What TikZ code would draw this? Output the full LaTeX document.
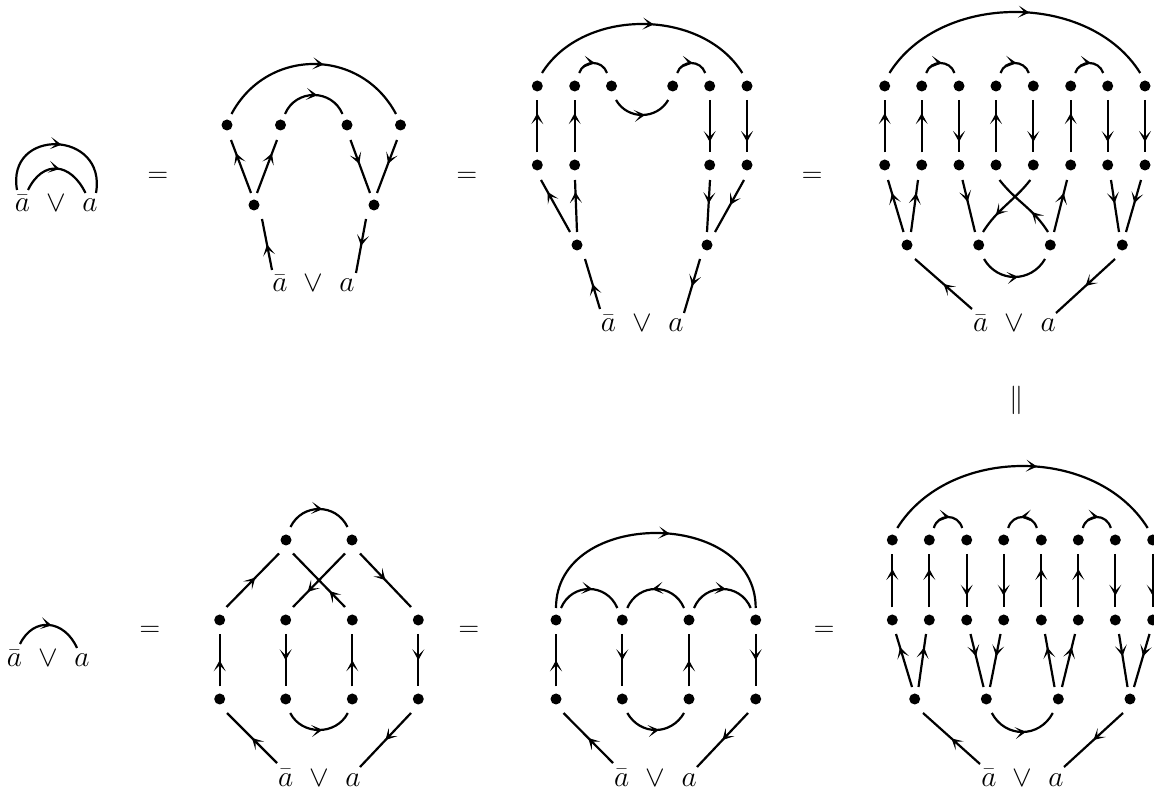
\documentclass[tikz,border=0pt]{standalone}
\usepackage{fix-cm}
\usetikzlibrary{arrows.meta,decorations.markings,calc}
\tikzset{
  x=1pt,y=1pt,
  dot/.style={circle,fill=black,draw=none,inner sep=0pt,minimum size=11pt,outer sep=0pt},
  lab/.style={inner sep=0pt,anchor=base,font=\fontsize{29.5}{35}\selectfont,text=black},
  sym/.style={inner sep=0pt,anchor=center,font=\fontsize{28.5}{34}\selectfont,text=black},
  wire/.style={line width=2.2pt,draw=black},
  tip/.style={postaction={decorate,decoration={markings,
     mark=at position #1 with {\arrow[line width=1.1pt]{Stealth[length=11pt,width=12pt,inset=6pt]}}}}},
  tip/.default=0.5
}
% all coordinates below are reference pixels (y downwards)
\newcommand\dotn[3]{\node[dot] (#1) at (#2,{790-#3}) {};}
\newcommand\freep[3]{\coordinate (#1) at (#2,{790-#3});}
\newcommand\labn[4]{\node[lab] (#1) at (#2,{790-#3}) {$#4$};}
\newcommand\symn[4]{\node[sym] (#1) at (#2,{790-#3}) {$#4$};}
% connector: from node #1 offset (#2,#3) to node #4 offset (#5,#6), arrow at #7
\newcommand\wirex[7]{\draw[wire,tip=#7] ($(#1)+(#2,{-(#3)})$) -- ($(#4)+(#5,{-(#6)})$);}
\newcommand\wup[2]{\wirex{#1}{0}{-12.5}{#2}{0}{14}{\vpos}}
\newcommand\wdn[2]{\wirex{#1}{0}{14}{#2}{0}{-12.5}{\vposd}}
\newcommand\fromfree[4]{\draw[wire,tip=0.5] (#1) -- ($(#2)+(#3,{-(#4)})$);}
\newcommand\tofree[4]{\draw[wire,tip=0.5] ($(#1)+(#2,{-(#3)})$) -- (#4);}
% circular-looking arc over two nodes: #1 #2 nodes, (#3,#4) start offset, #5 tangent angle, #6 sagitta
\newcommand\arcp[6]{\pgfmathsetmacro\arcdist{#6/(0.75*sin(#5))}%
  \draw[wire,tip=0.55] ($(#1)+(#3,#4)$) to[out=#5,in={180-#5},distance=\arcdist pt] ($(#2)+(-#3,#4)$);}
\newcommand\arcq[6]{\pgfmathsetmacro\arcdist{#6/(0.75*sin(#5))}%
  \draw[wire,tip=0.55] ($(#2)+(-#3,#4)$) to[out={180-#5},in=#5,distance=\arcdist pt] ($(#1)+(#3,#4)$);}
\newcommand\arcd[6]{\pgfmathsetmacro\arcdist{#6/(0.75*sin(#5))}%
  \draw[wire,tip=0.55] ($(#1)+(#3,-#4)$) to[out={-#5},in={180+#5},distance=\arcdist pt] ($(#2)+(-#3,-#4)$);}
\begin{document}
\begin{tikzpicture}
\useasboundingbox (0,0) rectangle (1154,790);
% ---------- top row, panel 1
\labn{a1b}{22.5}{212}{\bar a}\labn{a1v}{56}{212}{\vee}\labn{a1a}{90}{212}{a}
\freep{a1o}{17}{190}\freep{a1p}{96}{193}\freep{a1q}{28}{190}\freep{a1r}{85.5}{193}
\draw[wire,tip=0.53] (a1o) to[out=100,in=80,distance=64pt] (a1p);
\draw[wire,tip=0.53] (a1q) to[out=64,in=116,distance=34pt] (a1r);
\symn{eq1}{158}{177}{=}
% ---------- top row, panel 2
\dotn{b1}{227}{125}\dotn{b2}{280.5}{125}\dotn{b3}{347}{125}\dotn{b4}{400.5}{125}
\dotn{bl}{254}{205}\dotn{br}{374}{205}
\labn{b5}{280}{291.7}{\bar a}\labn{b6}{313}{291.7}{\vee}\labn{b7}{347}{291.7}{a}
\freep{bfa}{272}{270}\freep{bfb}{356}{273}
\arcp{b1}{b4}{4.5}{11}{62}{50}\arcp{b2}{b3}{4.5}{11}{67}{19}
\wirex{bl}{-3}{-12}{b1}{4}{15}{0.75}\wirex{bl}{3}{-12}{b2}{-3.5}{15}{0.75}
\wirex{b3}{3.5}{15}{br}{-4}{-12}{0.45}\wirex{b4}{-3.5}{15}{br}{3}{-12}{0.45}
\fromfree{bfa}{bl}{8}{14}\tofree{br}{-8}{14}{bfb}
\symn{eq2}{467}{177}{=}
% ---------- top row, panel 3
\dotn{c1}{537.3}{86}\dotn{c2}{574.7}{86}\dotn{c3}{611.5}{86}\dotn{c4}{672.7}{86}\dotn{c5}{709.7}{86}\dotn{c6}{747}{86}
\dotn{c7}{537.3}{165}\dotn{c8}{574.7}{165}\dotn{c9}{709.7}{165}\dotn{c10}{747}{165}
\dotn{c11}{577}{245}\dotn{c12}{707}{245}
\labn{c13}{608.5}{331.7}{\bar a}\labn{c14}{642}{331.7}{\vee}\labn{c15}{676}{331.7}{a}
\freep{cfa}{600}{309}\freep{cfb}{684}{313}
\arcp{c1}{c6}{4.7}{13}{58}{49}\arcp{c2}{c3}{4.5}{13}{71}{10}\arcp{c4}{c5}{4.5}{13}{71}{10}\arcd{c3}{c4}{4.5}{14}{60}{15}
\def\vpos{0.75}\def\vposd{0.8}
\wup{c7}{c1}\wup{c8}{c2}\wdn{c5}{c9}\wdn{c6}{c10}
\wirex{c11}{-7}{-13}{c7}{3.7}{15}{0.77}\wirex{c11}{0}{-13}{c8}{0.3}{15}{0.77}
\wirex{c9}{0.3}{15}{c12}{0}{-13}{0.45}\wirex{c10}{-3}{15}{c12}{8}{-13}{0.48}
\fromfree{cfa}{c11}{8}{14}\tofree{c12}{-7}{14}{cfb}
\symn{eq3}{812}{177}{=}
% ---------- top row, panel 4
\dotn{d1}{884.7}{86}\dotn{d2}{921.7}{86}\dotn{d3}{959}{86}\dotn{d4}{996}{86}\dotn{d5}{1033.3}{86}\dotn{d6}{1070.7}{86}\dotn{d7}{1107.7}{86}\dotn{d8}{1145}{86}
\dotn{e1}{884.7}{165}\dotn{e2}{921.7}{165}\dotn{e3}{959}{165}\dotn{e4}{996}{165}\dotn{e5}{1033.3}{165}\dotn{e6}{1070.7}{165}\dotn{e7}{1107.7}{165}\dotn{e8}{1145}{165}
\dotn{f1}{907}{245}\dotn{f2}{978.7}{245}\dotn{f3}{1050.3}{245}\dotn{f4}{1122.3}{245}
\labn{g1}{980.7}{331.7}{\bar a}\labn{g2}{1014}{331.7}{\vee}\labn{g3}{1048.3}{331.7}{a}
\freep{gfa}{972}{309}\freep{gfb}{1056}{313}
\arcp{d1}{d8}{4.8}{13}{58}{61}\arcp{d2}{d3}{4.5}{13}{71}{10}\arcp{d4}{d5}{4.5}{13}{71}{10}\arcp{d6}{d7}{4.5}{13}{71}{10}\arcd{f2}{f3}{5.3}{14}{60}{18}
\wup{e1}{d1}\wup{e2}{d2}\wdn{d3}{e3}\wup{e4}{d4}\wdn{d5}{e5}\wup{e6}{d6}\wdn{d7}{e7}\wdn{d8}{e8}
\wirex{f1}{-3.5}{-13}{e1}{3.3}{15}{0.75}\wirex{f1}{4}{-13}{e2}{-3.7}{15}{0.75}
\wirex{e3}{3.5}{15}{f2}{-3.7}{-13}{0.42}\wirex{f3}{3.7}{-13}{e6}{-3.7}{15}{0.75}
\wirex{e7}{3.3}{15}{f4}{-3.3}{-13}{0.45}\wirex{e8}{-4}{15}{f4}{3.7}{-13}{0.45}
\draw[wire,tip=0.7] ($(e5)+(-3,-15)$) to[out=-128,in=58] ($(f2)+(4.3,13)$);
\draw[wire,tip=0.36] ($(f3)+(-2.3,13)$) to[out=122,in=-52] ($(e4)+(3.5,-15)$);
\fromfree{gfa}{f1}{8}{14}\tofree{f4}{-7.3}{14}{gfb}
% ---------- sign between rows
\symn{eq4}{1016.5}{400}{\parallel}
% ---------- bottom row, panel 1
\labn{h1}{14.5}{667}{\bar a}\labn{h2}{48}{667}{\vee}\labn{h3}{82}{667}{a}
\freep{hfa}{20}{644}\freep{hfb}{77}{648}
\draw[wire,tip=0.53] (hfa) to[out=64,in=114,distance=31pt] (hfb);
\symn{eq5}{150}{631}{=}
% ---------- bottom row, panel 2
\dotn{i1}{286}{540}\dotn{i2}{352}{540}
\dotn{i3}{219.7}{620}\dotn{i4}{285.7}{620}\dotn{i5}{352.3}{620}\dotn{i6}{418.3}{620}
\dotn{i7}{219.7}{699}\dotn{i8}{285.7}{699}\dotn{i9}{352.3}{699}\dotn{i10}{418.3}{699}
\labn{j1}{285.7}{786}{\bar a}\labn{j2}{319}{786}{\vee}\labn{j3}{353}{786}{a}
\freep{jfa}{277}{763}\freep{jfb}{360}{767}
\arcp{i1}{i2}{4.5}{13}{64}{18}\arcd{i8}{i9}{4.5}{14}{63}{17}
\wirex{i3}{6.8}{-13}{i1}{-7}{13.5}{0.55}
\wirex{i5}{-7.3}{-13}{i1}{7}{13.5}{0.3}
\wirex{i2}{-7}{13.5}{i4}{7.3}{-13}{0.72}
\wirex{i2}{8}{13.5}{i6}{-7.3}{-13}{0.5}
\def\vpos{0.5}\def\vposd{0.5}
\wup{i7}{i3}\wdn{i4}{i8}\wup{i9}{i5}\wdn{i6}{i10}
\fromfree{jfa}{i7}{7.3}{14}\tofree{i10}{-7.3}{14}{jfb}
\symn{eq6}{469}{631}{=}
% ---------- bottom row, panel 3
\dotn{k1}{556}{620}\dotn{k2}{622.3}{620}\dotn{k3}{689}{620}\dotn{k4}{755.7}{620}
\dotn{k5}{556}{699}\dotn{k6}{622.3}{699}\dotn{k7}{689}{699}\dotn{k8}{755.7}{699}
\labn{l1}{621.7}{786}{\bar a}\labn{l2}{655}{786}{\vee}\labn{l3}{689.3}{786}{a}
\freep{lfa}{613}{763}\freep{lfb}{697}{767}
\arcp{k1}{k4}{0}{12}{90}{75}\arcp{k1}{k2}{5}{12}{67}{19}\arcq{k2}{k3}{5}{12}{67}{19}\arcp{k3}{k4}{5}{12}{67}{19}\arcd{k6}{k7}{5}{14}{60}{17}
\wup{k5}{k1}\wdn{k2}{k6}\wup{k7}{k3}\wdn{k4}{k8}
\fromfree{lfa}{k5}{7.5}{14}\tofree{k8}{-7.7}{14}{lfb}
\symn{eq7}{824}{631}{=}
% ---------- bottom row, panel 4
\dotn{m1}{892.3}{540}\dotn{m2}{929.3}{540}\dotn{m3}{966.7}{540}\dotn{m4}{1003.7}{540}\dotn{m5}{1041.3}{540}\dotn{m6}{1078.3}{540}\dotn{m7}{1115.3}{540}\dotn{m8}{1152.7}{540}
\dotn{n1}{892.3}{620}\dotn{n2}{929.3}{620}\dotn{n3}{966.7}{620}\dotn{n4}{1003.7}{620}\dotn{n5}{1041.3}{620}\dotn{n6}{1078.3}{620}\dotn{n7}{1115.3}{620}\dotn{n8}{1152.7}{620}
\dotn{o1}{914.7}{699}\dotn{o2}{986.3}{699}\dotn{o3}{1058.3}{699}\dotn{o4}{1130}{699}
\labn{q1}{989}{786}{\bar a}\labn{q2}{1022.3}{786}{\vee}\labn{q3}{1056}{786}{a}
\freep{qfa}{980}{764}\freep{qfb}{1064}{767}
\arcp{m1}{m8}{5}{12}{58}{62}\arcp{m2}{m3}{4.5}{12}{74}{11}\arcq{m4}{m5}{4.5}{12}{74}{11}\arcp{m6}{m7}{4.5}{12}{74}{11}\arcd{o2}{o3}{5.5}{14}{62}{19}
\def\vpos{0.72}\def\vposd{0.78}
\wup{n1}{m1}\wup{n2}{m2}\wdn{m3}{n3}\wdn{m4}{n4}\wup{n5}{m5}\wup{n6}{m6}\wdn{m7}{n7}\wdn{m8}{n8}
\wirex{o1}{-2.7}{-12}{n1}{3.7}{14}{0.75}\wirex{o1}{3.8}{-12}{n2}{-3.3}{14}{0.75}
\wirex{n3}{3.8}{14}{o2}{-2.8}{-12}{0.42}\wirex{n4}{-3.2}{14}{o2}{3.7}{-12}{0.42}
\wirex{o3}{-3.8}{-12}{n5}{3.7}{14}{0.75}\wirex{o3}{3.7}{-12}{n6}{-3.3}{14}{0.75}
\wirex{n7}{3.7}{14}{o4}{-2.5}{-12}{0.42}\wirex{n8}{-3.2}{14}{o4}{4}{-12}{0.42}
\fromfree{qfa}{o1}{8.3}{14}\tofree{o4}{-7}{14}{qfb}
\end{tikzpicture}
\end{document}
